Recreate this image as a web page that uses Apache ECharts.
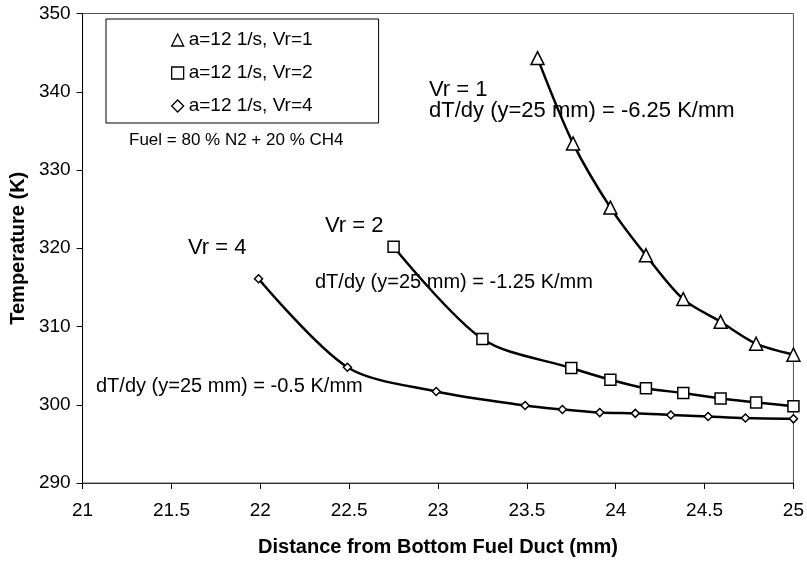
<!DOCTYPE html>
<html>
<head>
<meta charset="utf-8">
<script src="https://cdn.jsdelivr.net/npm/echarts@6/dist/echarts.min.js"></script>
<style>
html,body{margin:0;padding:0;background:#fff;}
#chart{width:807px;height:562px;}
</style>
</head>
<body>
<div id="chart"></div>
<script>
// ---- data ----
var seriesNames = ['a=12 1/s, Vr=1', 'a=12 1/s, Vr=2', 'a=12 1/s, Vr=4'];
var xVr1 = [23.56, 23.76, 23.97, 24.17, 24.38, 24.59, 24.79, 25.0];
var yVr1 = [344.3, 333.4, 325.2, 319.1, 313.5, 310.6, 307.8, 306.4];
var xVr2 = [22.75, 23.25, 23.75, 23.97, 24.17, 24.38, 24.59, 24.79, 25.0];
var yVr2 = [320.2, 308.4, 304.7, 303.2, 302.1, 301.5, 300.8, 300.3, 299.8];
var xVr4 = [21.99, 22.49, 22.99, 23.49, 23.70, 23.91, 24.11, 24.31, 24.52, 24.73, 25.0];
var yVr4 = [316.1, 304.8, 301.7, 299.9, 299.4, 299.0, 298.9, 298.7, 298.5, 298.3, 298.2];
var xAxisMin = 21, xAxisMax = 25, xAxisStep = 0.5;
var yAxisMin = 290, yAxisMax = 350, yAxisStep = 10;
var xTitle = 'Distance from Bottom Fuel Duct (mm)';
var yTitle = 'Temperature (K)';
var fuelNote = 'Fuel = 80 % N2 + 20 % CH4';
var notes = {
  vr1: 'Vr = 1', g1: 'dT/dy (y=25 mm) = -6.25 K/mm',
  vr2: 'Vr = 2', g2: 'dT/dy (y=25 mm) = -1.25 K/mm',
  vr4: 'Vr = 4', g4: 'dT/dy (y=25 mm) = -0.5 K/mm'
};

function pairs(xs, ys) { return xs.map(function (x, i) { return [x, ys[i]]; }); }

var FONT = 'Liberation Sans, Arial, sans-serif';
var chart = echarts.init(document.getElementById('chart'), null, {renderer: 'canvas'});

function mkSeries(name, data, symbol, size) {
  return {
    name: name, type: 'line', data: data,
    smooth: 0.3,
    symbol: symbol, symbolSize: size,
    showAllSymbol: true,
    lineStyle: {color: '#000', width: 2.5},
    itemStyle: {color: '#fff', borderColor: '#000', borderWidth: 1.5},
    emphasis: {disabled: true},
    z: 3
  };
}

function txt(text, left, cy, size) {
  return {
    type: 'text', left: left, top: cy - size * 0.5,
    style: {text: text, fontSize: size, fontFamily: FONT, fill: '#000'},
    z: 10
  };
}

var option = {
  backgroundColor: '#fff',
  animation: false,
  grid: {
    left: 81.5, right: 13, top: 13.5, bottom: 78,
    show: true, borderColor: '#555', borderWidth: 1, backgroundColor: 'transparent'
  },
  legend: {
    left: 106, top: 19, orient: 'vertical',
    selectedMode: false,
    backgroundColor: '#fff', borderColor: '#000', borderWidth: 1,
    padding: [11, 66, 7, 65], itemGap: 13,
    itemWidth: 12, itemHeight: 12,
    textStyle: {fontSize: 19, fontFamily: FONT, color: '#000', lineHeight: 20},
    data: [
      {name: seriesNames[0], icon: 'triangle', itemStyle: {color: '#fff', borderColor: '#000', borderWidth: 1.3}},
      {name: seriesNames[1], icon: 'rect', itemStyle: {color: '#fff', borderColor: '#000', borderWidth: 1.3}},
      {name: seriesNames[2], icon: 'diamond', itemStyle: {color: '#fff', borderColor: '#000', borderWidth: 1.3}}
    ]
  },
  xAxis: {
    type: 'value', min: xAxisMin, max: xAxisMax, interval: xAxisStep,
    name: xTitle, nameLocation: 'middle', nameGap: 54,
    nameTextStyle: {fontSize: 20, fontWeight: 'bold', fontFamily: FONT, color: '#000'},
    axisLine: {show: true, onZero: false, lineStyle: {color: '#333', width: 1}},
    axisTick: {show: true, inside: false, length: 6, lineStyle: {color: '#000'}},
    axisLabel: {fontSize: 19, fontFamily: FONT, color: '#000', margin: 18},
    splitLine: {show: false}
  },
  yAxis: {
    type: 'value', min: yAxisMin, max: yAxisMax, interval: yAxisStep,
    name: yTitle, nameLocation: 'middle', nameGap: 52,
    nameTextStyle: {fontSize: 20, fontWeight: 'bold', fontFamily: FONT, color: '#000'},
    axisLine: {show: true, onZero: false, lineStyle: {color: '#000', width: 1}},
    axisTick: {show: true, inside: false, length: 6, lineStyle: {color: '#000'}},
    axisLabel: {fontSize: 19, fontFamily: FONT, color: '#000', margin: 12},
    splitLine: {show: false}
  },
  series: [
    mkSeries(seriesNames[0], pairs(xVr1, yVr1), 'triangle', 13),
    mkSeries(seriesNames[1], pairs(xVr2, yVr2), 'rect', 11),
    mkSeries(seriesNames[2], pairs(xVr4, yVr4), 'diamond', 8)
  ],
  graphic: [
    txt(fuelNote, 129, 140, 17),
    txt(notes.vr1, 429, 90, 22),
    txt(notes.g1, 429, 111, 22),
    txt(notes.vr2, 325, 225.5, 22),
    txt(notes.g2, 315, 282.5, 20),
    txt(notes.vr4, 188, 248, 22),
    txt(notes.g4, 96, 386, 20)
  ]
};
chart.setOption(option);
</script>
</body>
</html>
